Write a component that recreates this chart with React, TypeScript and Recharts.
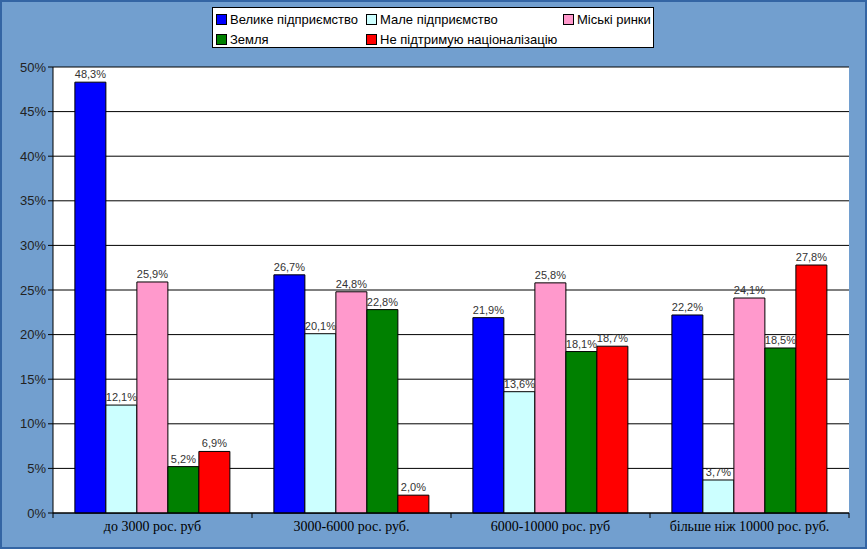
import React from 'react';
import { BarChart, Bar, XAxis, YAxis, CartesianGrid, LabelList } from 'recharts';

const categories = ['до 3000 рос. руб', '3000-6000 рос. руб.', '6000-10000 рос. руб', 'більше ніж 10000 рос. руб.'];
const bigEnterprise = [48.3, 26.7, 21.9, 22.2];
const smallEnterprise = [12.1, 20.1, 13.6, 3.7];
const cityMarkets = [25.9, 24.8, 25.8, 24.1];
const land = [5.2, 22.8, 18.1, 18.5];
const noSupport = [6.9, 2.0, 18.7, 27.8];
const yTicks = [0, 5, 10, 15, 20, 25, 30, 35, 40, 45, 50];

const series = [
  { key: 'big', name: 'Велике підприємство', color: '#0000ff', values: bigEnterprise },
  { key: 'small', name: 'Мале підприємство', color: '#ccffff', values: smallEnterprise },
  { key: 'markets', name: 'Міські ринки', color: '#ff99cc', values: cityMarkets },
  { key: 'land', name: 'Земля', color: '#008000', values: land },
  { key: 'none', name: 'Не підтримую націоналізацію', color: '#ff0000', values: noSupport },
];

const data = categories.map((c, i) => {
  const row: any = { cat: c };
  series.forEach((s) => (row[s.key] = s.values[i]));
  return row;
});

const fmt = (v: number) => v.toFixed(1).replace('.', ',') + '%';

const HALF_BAND = 99.5;

const CatTick = (props: any) => {
  const { x, y, payload, index } = props;
  return (
    <g>
      <line x1={x - HALF_BAND} x2={x - HALF_BAND} y1={y - 8} y2={y - 3} stroke="#000" />
      {index === categories.length - 1 && (
        <line x1={x + HALF_BAND} x2={x + HALF_BAND} y1={y - 8} y2={y - 3} stroke="#000" />
      )}
      <text x={x} y={y + 10} textAnchor="middle" fontFamily="'Liberation Serif', serif" fontSize={14} fill="#000">
        {payload.value}
      </text>
    </g>
  );
};

const legendPos = [
  { left: 3, top: 4 },
  { left: 153, top: 4 },
  { left: 350, top: 4 },
  { left: 3, top: 24 },
  { left: 153, top: 24 },
];

export default function App() {
  return (
    <div style={{ position: 'relative', width: 867, height: 549 }}>
      <style>{`body{margin:0}`}</style>
      <div
        style={{
          position: 'absolute',
          inset: 0,
          background: '#729fcf',
          border: '2px solid #3465a4',
          boxSizing: 'border-box',
        }}
      />
      <div style={{ position: 'absolute', left: 0, top: 0 }}>
        <BarChart
          width={867}
          height={549}
          data={data}
          margin={{ top: 67, right: 18, bottom: 0, left: 0 }}
          barCategoryGap="11%"
          barGap={0}
        >
          <CartesianGrid vertical={false} stroke="#000" fill="#fff" strokeOpacity={1} />
          <XAxis
            dataKey="cat"
            height={36}
            axisLine={{ stroke: '#000' }}
            tickLine={false}
            tick={<CatTick />}
            interval={0}
          />
          <YAxis
            width={53}
            domain={[0, 50]}
            ticks={yTicks}
            tickFormatter={(v: number) => v + '%'}
            axisLine={{ stroke: '#000' }}
            tickLine={{ stroke: '#000' }}
            tickSize={5}
            tick={{ fill: '#222', fontSize: 13, fontFamily: "'Liberation Sans', Arial, sans-serif" }}
          />
          {series.map((s) => (
            <Bar key={s.key} dataKey={s.key} name={s.name} fill={s.color} stroke="#000" strokeWidth={1} isAnimationActive={false}>
              <LabelList
                dataKey={s.key}
                position="top"
                offset={4}
                formatter={(v: any) => fmt(Number(v))}
                style={{ fontSize: 11, fill: '#333', fontFamily: "'Liberation Sans', Arial, sans-serif" }}
              />
            </Bar>
          ))}
        </BarChart>
      </div>
      <div
        style={{
          position: 'absolute',
          left: 212,
          top: 7,
          width: 442,
          height: 41,
          background: '#fff',
          border: '1px solid #000',
          boxSizing: 'border-box',
          fontFamily: "'Liberation Sans', Arial, sans-serif",
          fontSize: 13,
          color: '#000',
        }}
      >
        {series.map((s, i) => (
          <div
            key={s.key}
            style={{
              position: 'absolute',
              left: legendPos[i].left,
              top: legendPos[i].top,
              display: 'flex',
              alignItems: 'center',
              whiteSpace: 'nowrap',
              lineHeight: '15px',
            }}
          >
            <span
              style={{
                display: 'inline-block',
                width: 9,
                height: 9,
                background: s.color,
                border: '1px solid #000',
                marginRight: 3,
              }}
            />
            {s.name}
          </div>
        ))}
      </div>
    </div>
  );
}
